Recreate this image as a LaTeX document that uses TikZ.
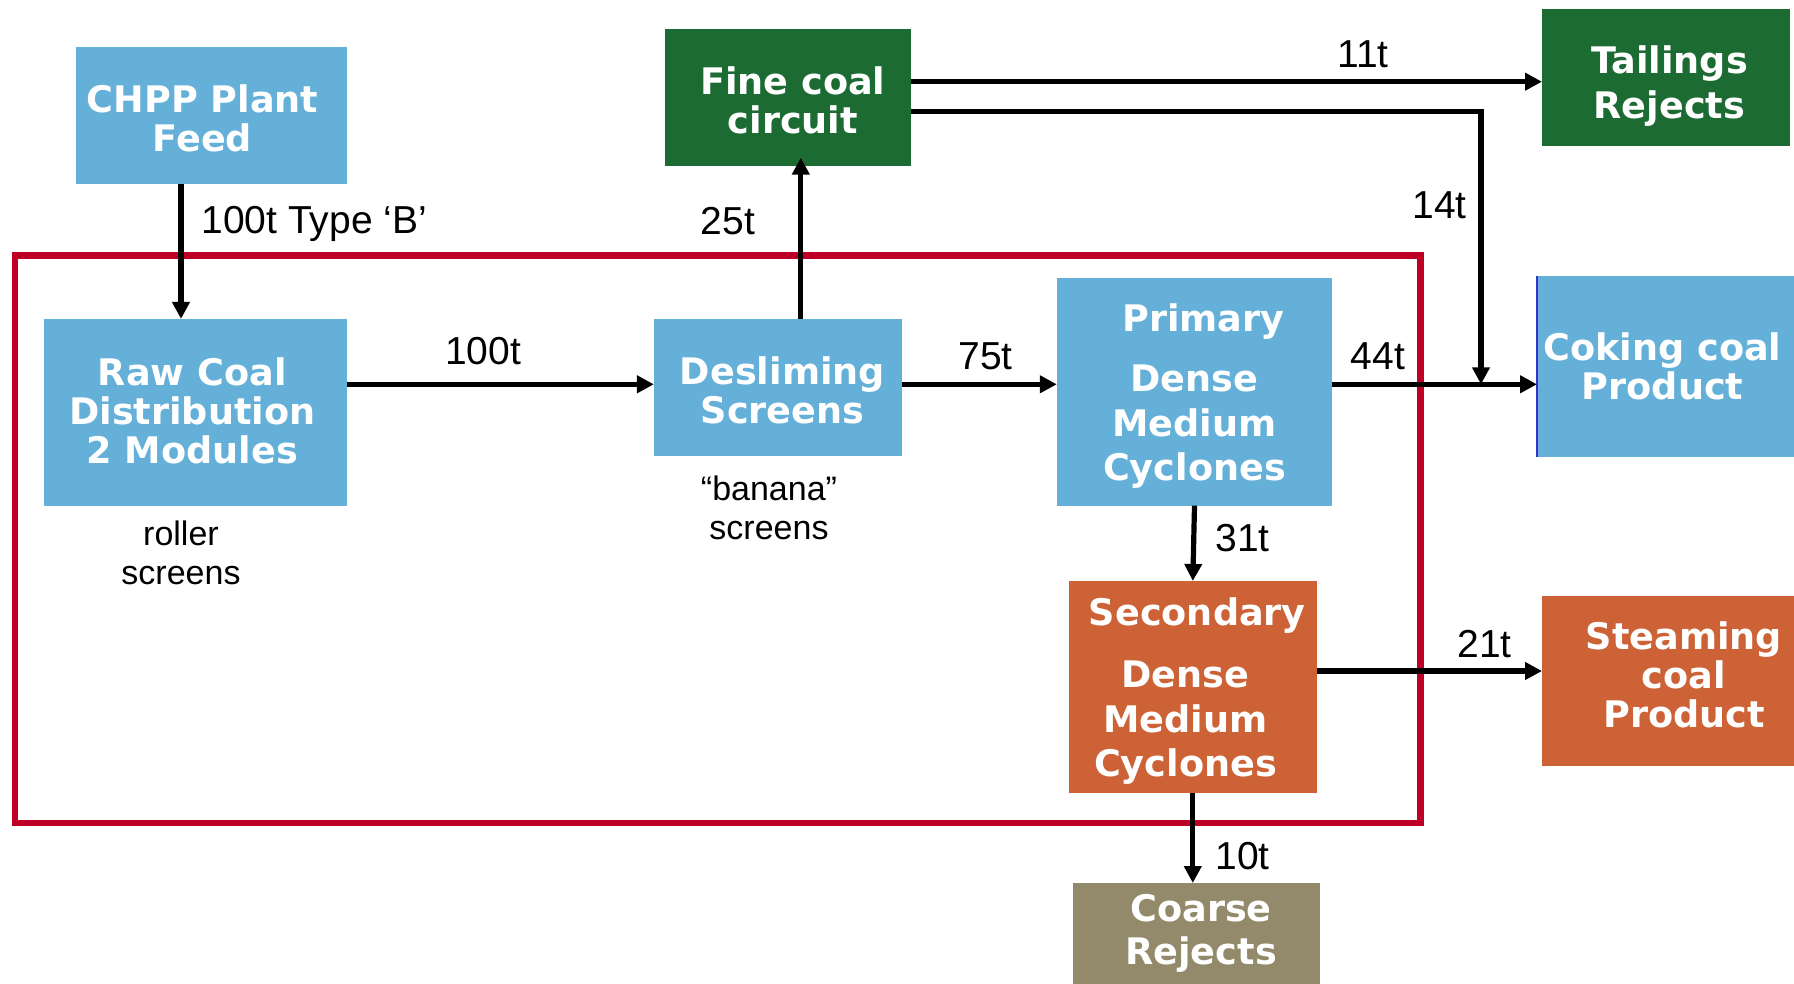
\documentclass[tikz,border=0pt]{standalone}
\usepackage{fontspec}
\setmainfont{Liberation Sans}
\newfontfamily\boxfont{DejaVu Sans}[BoldFont={DejaVu Sans Bold}]
\usepackage{tikz}
\usetikzlibrary{positioning,calc,arrows.meta}

\definecolor{plantblue}{RGB}{101,176,217}
\definecolor{plantgreen}{RGB}{28,107,50}
\definecolor{plantorange}{RGB}{204,98,54}
\definecolor{planttan}{RGB}{146,138,107}
\definecolor{modulered}{RGB}{190,0,38}
\definecolor{edgeblue}{RGB}{51,51,204}

\begin{document}
\begin{tikzpicture}[x=0.5pt,y=-0.5pt,
    unit/.style={rectangle,inner sep=0pt,outer sep=0pt},
    unittext/.style={inner sep=0pt,text=white,align=center,
        font=\boxfont\bfseries\fontsize{18.3}{19.5}\selectfont},
    flow/.style={line width=2.6pt,-{Triangle[length=8.5pt,width=8.5pt]}},
    tonnes/.style={inner sep=0pt,font=\fontsize{19.5}{21}\selectfont},
    remark/.style={inner sep=0pt,align=center,font=\fontsize{17}{19.75}\selectfont}]
    \useasboundingbox (0,0) rectangle (1794,984);

    % module boundary
    \draw[modulered,line width=3.3pt] (15,255.3) rectangle (1420.5,823);

    \node[unit,fill=plantblue,minimum width=135.75pt,minimum height=68.35pt] (feed) at (211.5,115.3) {};
    \node[unit,fill=plantgreen,minimum width=123pt,minimum height=68.35pt] (fine) at (788.3,97.3) {};
    \node[unit,fill=plantgreen,minimum width=124pt,minimum height=68.35pt] (tailings) at (1666,77.3) {};
    \node[unit,fill=plantblue,minimum width=151.5pt,minimum height=93.35pt] (rawcoal) at (195.7,412.3) {};
    \node[unit,fill=plantblue,minimum width=124pt,minimum height=68.35pt] (desliming) at (777.9,387.3) {};
    \node[unit,fill=plantblue,minimum width=137.7pt,minimum height=114pt] (primary) at (1194.5,391.7) {};
    \node[unit,fill=plantblue,minimum width=128.5pt,minimum height=90.35pt] (coking) at (1665.5,366.3) {};
    \node[unit,fill=plantorange,minimum width=124pt,minimum height=105.85pt] (secondary) at (1192.8,686.8) {};
    \node[unit,fill=plantorange,minimum width=126pt,minimum height=84.85pt] (steaming) at (1668,680.8) {};
    \node[unit,fill=planttan,minimum width=123.7pt,minimum height=50.5pt] (coarse) at (1196.5,933.5) {};
    \draw[edgeblue,line width=0.6pt] (coking.north west) -- (coking.south west);

    % box captions
    \node[unittext] (feedtext) at ([shift={(-9,3.4)}]feed.center) {CHPP Plant\\Feed};
    \node[unittext] (finetext) at ([shift={(4.6,3.4)}]fine.center) {Fine coal\\circuit};
    \node[unittext] (tailingstext) at ([shift={(3.4,9)}]tailings.center) {Tailings\\[2.8pt]Rejects};
    \node[unittext] (rawcoaltext) at ([shift={(-3.4,-1)}]rawcoal.center) {Raw Coal\\Distribution\\2 Modules};
    \node[unittext] (deslimingtext) at ([shift={(4.6,3.4)}]desliming.center) {Desliming\\Screens};
    \node[unittext] (primarytext) at ([shift={(0,4.6)}]primary.center) {\hspace*{9pt}Primary\\[10.3pt]Dense\\[3pt]Medium\\[2.5pt]Cyclones};
    \node[unittext] (cokingtext) at ([shift={(-3,0)}]coking.center) {Coking coal\\Product};
    \node[unittext] (secondarytext) at ([shift={(-7.4,4.6)}]secondary.center) {\hspace*{12pt}Secondary\\[11.4pt]Dense\\[2.8pt]Medium\\[2.8pt]Cyclones};
    \node[unittext] (steamingtext) at ([shift={(16,-5.7)}]steaming.center) {Steaming\\coal\\Product};
    \node[unittext] (coarsetext) at ([shift={(4.6,0)}]coarse.center) {Coarse\\[2.3pt]Rejects};

    \node[remark] (rollernote) at (181,553) {roller\\screens};
    \node[remark] (banananote) at (769,508) {“banana”\\screens};

    % routing points
    \coordinate (feedx) at (181,0);
    \coordinate (finex) at (800.8,0);
    \coordinate (mainy) at (0,384.3);
    \coordinate (taily) at (0,81.7);
    \coordinate (bendy) at (0,111.7);
    \coordinate (bendx) at (1481,0);
    \coordinate (steamy) at (0,671);

    \draw[flow] (feed.south -| feedx) -- (rawcoal.north -| feedx);
    \draw[flow] (rawcoal.east |- mainy) -- (desliming.west |- mainy);
    \draw[flow,shorten >=-4pt] (desliming.north -| finex) -- (fine.south -| finex);
    \draw[flow] (desliming.east |- mainy) -- (primary.west |- mainy);
    \draw[flow] (primary.east |- mainy) -- (coking.west |- mainy);
    \draw[flow] (fine.east |- taily) -- (tailings.west |- taily);
    \draw[flow] (fine.east |- bendy) -- (bendx |- bendy) -- (bendx |- mainy);
    \draw[flow] (primary.south) -- (secondary.north);
    \draw[flow] (secondary.east |- steamy) -- (steaming.west |- steamy);
    \draw[flow] (secondary.south) -- (secondary.south |- coarse.north);

    \node[tonnes,anchor=west] (tfeed) at (201,224) {100t Type ‘B’};
    \node[tonnes] (tfine) at (728,221.5) {25t};
    \node[tonnes] (traw) at (483,351.5) {100t};
    \node[tonnes] (tdeslime) at (985.5,356.5) {75t};
    \node[tonnes] (tcoking) at (1378,356.5) {44t};
    \node[tonnes] (treturn) at (1439.5,205) {14t};
    \node[tonnes] (ttailings) at (1363,54.5) {11t};
    \node[tonnes] (tsecondary) at (1242.5,538) {31t};
    \node[tonnes] (tsteaming) at (1484.5,644.5) {21t};
    \node[tonnes] (tcoarse) at (1242.5,856) {10t};
\end{tikzpicture}
\end{document}
